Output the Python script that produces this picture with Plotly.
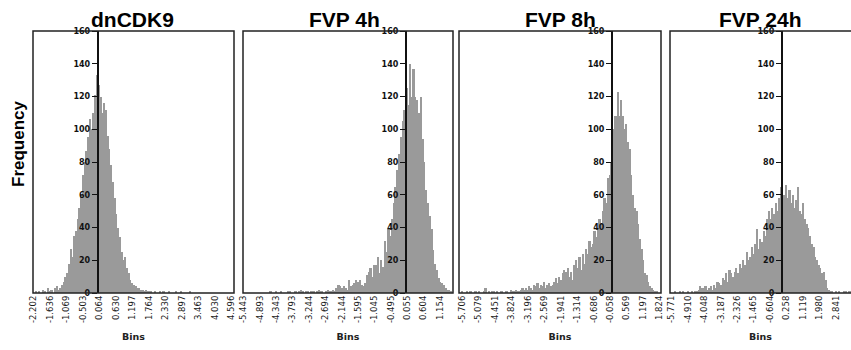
import plotly.graph_objects as go

# ---------------- data ----------------
titles = ["dnCDK9", "FVP 4h", "FVP 8h", "FVP 24h"]
y_tick_values = [0, 20, 40, 60, 80, 100, 120, 140, 160]

xticks_dncdk9 = [-2.202, -1.636, -1.069, -0.503, 0.064, 0.630, 1.197, 1.764,
                 2.330, 2.897, 3.463, 4.030, 4.596]
xticks_fvp4 = [-5.443, -4.893, -4.343, -3.793, -3.244, -2.694, -2.144, -1.595,
               -1.045, -0.495, 0.055, 0.604, 1.154]
xticks_fvp8 = [-5.706, -5.079, -4.451, -3.824, -3.196, -2.569, -1.941, -1.314,
               -0.686, -0.058, 0.569, 1.197, 1.824]
xticks_fvp24 = [-5.771, -4.910, -4.048, -3.187, -2.326, -1.465, -0.604, 0.258,
                1.119, 1.980, 2.841, 3.702]

bin_start_dncdk9 = -2.2
bin_width_dncdk9 = 0.06
counts_dncdk9 = [0, 1, 0, 1, 0, 2, 1, 0, 3, 1, 2, 0, 3, 4, 2, 3,
                 5, 7, 10, 12, 18, 27, 22, 35, 38, 45, 52, 60, 72, 80, 87,
                 95, 106, 100, 110, 121, 133, 127, 120, 110, 116, 112, 96, 88,
                 78, 68, 58, 48, 40, 34, 25, 20, 22, 15, 12, 8, 6, 5, 4, 3, 3,
                 2, 2, 1, 2, 1, 1,
                 1, 0, 1, 0, 0, 1, 0, 1, 0, 0, 1, 0, 0, 0, 1, 0, 0, 1, 0, 0,
                 0, 0, 1, 0, 0, 0, 0, 0, 0, 0, 0, 0, 0, 0, 0, 0, 0, 0, 0, 0,
                 0, 0, 0, 0, 0, 0, 0, 0]

bin_start_fvp4 = -5.46
bin_width_fvp4 = 0.06
counts_fvp4 = [0, 0, 0, 0, 0, 0, 0, 0, 0, 0, 0, 0, 0, 0, 0,
               1, 0, 0, 1, 0, 0, 1, 0, 0, 0, 1, 1, 0, 0, 1, 0, 1, 2, 1, 0,
               1, 1, 0, 1, 1, 0, 1, 2, 1, 1, 0, 1, 2, 1, 1, 2,
               1, 3, 5, 4,
               3, 4, 3, 2, 8, 4,
               5, 6, 8, 7, 8, 5, 4, 6,
               11, 13, 15, 10, 17,
               17, 22, 12, 20, 16,
               32, 25, 40, 35,
               45, 55, 65, 75,
               85, 95, 105, 112,
               125, 115, 140, 120,
               137, 120, 118, 110,
               120, 94, 80, 63,
               55, 47, 39, 26,
               18, 14, 9, 7,
               6, 5, 3, 2,
               2, 1, 0]

bin_start_fvp8 = -5.80
bin_width_fvp8 = 0.064
counts_fvp8 = [0, 1, 0, 0, 1, 0, 1, 0, 0, 1, 0, 1, 0, 0, 1,
               3,
               0, 1, 0, 1, 1, 0, 1, 0, 1, 1, 0, 1, 1, 0,
               2, 1, 1, 2, 1, 1, 2, 3, 2, 3, 2, 4, 3, 2,
               5, 4, 6, 3, 5, 4, 7, 3, 5, 6, 4, 5, 7, 9, 6, 10,
               8, 12, 14, 13, 15, 10, 13, 8, 17, 20, 15, 22, 14, 24, 18,
               27, 24, 32, 28, 30, 38, 34, 40, 45, 43, 50, 58, 55, 70, 72,
               80, 100, 108, 108, 123, 108, 118, 108, 100, 103,
               92, 88, 72, 60, 52, 50, 42, 33, 27, 20, 12, 11, 7, 4, 3, 2,
               1, 1, 0, 0]

bin_start_fvp24 = -5.83
bin_width_fvp24 = 0.09
counts_fvp24 = [0, 0, 1, 0, 0, 1, 0, 1, 0, 0, 1, 0, 1, 0, 1, 1,
                2, 4, 3, 3, 4, 2, 3, 4, 2, 5, 3, 7, 6, 5, 9, 8, 12, 7, 14,
                12, 10, 13, 15, 12, 18, 15, 20, 17, 25, 20, 22, 28, 24, 30,
                39, 27, 33, 31, 38, 35, 45, 50, 45, 52, 48, 55, 50, 58, 65,
                55, 60, 66, 58, 63, 55, 60, 52, 57, 65, 50, 48, 55, 45, 42,
                40, 35, 30, 28, 22, 20, 17, 15, 12, 13, 8, 3, 2, 1, 1, 0,
                1, 0, 1, 0, 0, 1, 1, 0, 1, 1]

panels = [
    (bin_start_dncdk9, bin_width_dncdk9, counts_dncdk9, xticks_dncdk9),
    (bin_start_fvp4, bin_width_fvp4, counts_fvp4, xticks_fvp4),
    (bin_start_fvp8, bin_width_fvp8, counts_fvp8, xticks_fvp8),
    (bin_start_fvp24, bin_width_fvp24, counts_fvp24, xticks_fvp24),
]

# ---------------- layout config (pixels) ----------------
W, H = 851, 350
plot_px = [(33, 234), (243, 453), (459, 661), (670, 851)]
x_ranges = [(-2.216, 4.679), (-5.46, 1.587), (-5.83, 1.88), (-5.86, 3.64)]
top_px, bot_px = 31, 293
title_cx = [132, 344, 560, 760]

fig = go.Figure()
layout = dict(
    width=W, height=H, margin=dict(l=0, r=0, t=0, b=0, autoexpand=False),
    paper_bgcolor="white", plot_bgcolor="white", showlegend=False,
    bargap=0, font=dict(family="DejaVu Sans", color="#111"),
)
shapes = []
annotations = []
ydom = [1 - bot_px / H, 1 - top_px / H]

for i, (start, width, counts, ticks) in enumerate(panels):
    n = i + 1
    xa = "x" if n == 1 else f"x{n}"
    ya = "y" if n == 1 else f"y{n}"
    centers = [start + width * (k + 0.5) for k in range(len(counts))]
    fig.add_trace(go.Bar(x=centers, y=counts, width=width, xaxis=xa, yaxis=ya,
                         marker=dict(color="#9a9a9a", line=dict(width=0))))
    x0p, x1p = plot_px[i]
    r0, r1 = x_ranges[i]
    zero_px = x0p + (0 - r0) / (r1 - r0) * (x1p - x0p)
    layout[f"xaxis{'' if n == 1 else n}"] = dict(
        domain=[x0p / W, x1p / W], range=[r0, r1], anchor=ya, automargin=False,
        tickmode="array", tickvals=ticks, ticktext=[f"{v:.3f}" for v in ticks],
        tickangle=-90, tickfont=dict(size=8.5, family="DejaVu Sans", color="#1a1a1a"),
        ticks="", showgrid=False, zeroline=False, showline=False,
        title=dict(text="<b>Bins</b>", font=dict(size=9.5, family="DejaVu Sans", color="#222"),
                   standoff=11),
    )
    layout[f"yaxis{'' if n == 1 else n}"] = dict(
        domain=ydom, range=[0, 160], anchor="free", position=zero_px / W,
        automargin=False,
        tickmode="array", tickvals=y_tick_values,
        tickfont=dict(size=8, family="DejaVu Sans", color="#111", weight="bold"),
        ticks="outside", ticklen=5, tickwidth=1.3, tickcolor="#111",
        showline=True, linecolor="#111", linewidth=1.6,
        showgrid=False, zeroline=False,
    )
    shapes.append(dict(type="rect", xref=f"{xa} domain", yref=f"{ya} domain",
                       x0=0, x1=1.3 if n == 4 else 1, y0=0, y1=1,
                       line=dict(color="#222", width=1.5), layer="above"))
    annotations.append(dict(text=f"<b>{titles[i]}</b>", x=title_cx[i] / W, y=1 - 33 / H,
                            xref="paper", yref="paper", xanchor="center", yanchor="bottom",
                            showarrow=False,
                            font=dict(size=21, family="Liberation Sans", color="#000")))

annotations.append(dict(text="<b>Frequency</b>", x=18 / W, y=1 - 144 / H,
                        xref="paper", yref="paper", xanchor="center", yanchor="middle",
                        textangle=-90, showarrow=False,
                        font=dict(size=17, family="Liberation Sans", color="#000")))

layout["shapes"] = shapes
layout["annotations"] = annotations
fig.update_layout(**layout)
fig.write_html("out.html", config={"displayModeBar": False},
               post_script="document.body.style.margin='0';document.body.style.overflow='hidden';")
